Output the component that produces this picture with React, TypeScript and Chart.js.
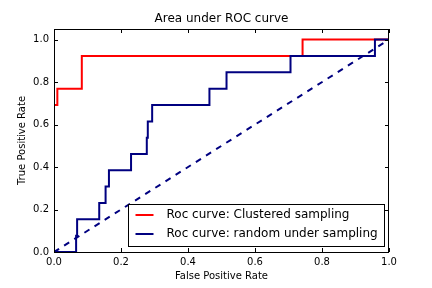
import React, { useEffect, useRef } from "react";
import { Chart, registerables } from "chart.js";

Chart.register(...registerables);

const chartTitle = "Area under ROC curve";
const xAxisLabel = "False Positive Rate";
const yAxisLabel = "True Positive Rate";
const tickValues = [0, 0.2, 0.4, 0.6, 0.8, 1.0];

const clusteredLabel = "Roc curve: Clustered sampling";
const clusteredFpr = [0, 0.01, 0.01, 0.083, 0.083, 0.742, 0.742, 1.0];
const clusteredTpr = [0.692, 0.692, 0.769, 0.769, 0.923, 0.923, 1.0, 1.0];

const randomLabel = "Roc curve: random under sampling";
const randomFpr = [0, 0.066, 0.066, 0.069, 0.069, 0.135, 0.135, 0.154, 0.154, 0.164, 0.164, 0.23, 0.23, 0.277, 0.277, 0.28, 0.28, 0.293, 0.293, 0.464, 0.464, 0.515, 0.515, 0.706, 0.706, 0.958, 0.958, 1.0];
const randomTpr = [0, 0, 0.077, 0.077, 0.154, 0.154, 0.231, 0.231, 0.308, 0.308, 0.385, 0.385, 0.462, 0.462, 0.538, 0.538, 0.615, 0.615, 0.692, 0.692, 0.769, 0.769, 0.846, 0.846, 0.923, 0.923, 1.0, 1.0];

const diagonalX = [0, 1];
const diagonalY = [0, 1];

const FONT = "'DejaVu Sans', sans-serif";

const framePlugin = {
  id: "frame",
  afterDatasetsDraw(chart: any) {
    const { ctx, chartArea } = chart;
    const { left, right, top, bottom } = chartArea;
    const xs = chart.scales.x;
    const ys = chart.scales.y;
    ctx.save();
    ctx.strokeStyle = "#000";
    ctx.lineWidth = 1;
    ctx.beginPath();
    tickValues.forEach((v) => {
      const px = Math.round(xs.getPixelForValue(v)) + 0.5;
      ctx.moveTo(px, bottom);
      ctx.lineTo(px, bottom - 4);
      ctx.moveTo(px, top);
      ctx.lineTo(px, top + 4);
      const py = Math.round(ys.getPixelForValue(v)) + 0.5;
      ctx.moveTo(left, py);
      ctx.lineTo(left + 4, py);
      ctx.moveTo(right, py);
      ctx.lineTo(right - 4, py);
    });
    ctx.stroke();
    ctx.strokeRect(left + 0.5, top + 0.5, right - left - 1, bottom - top);
    // title
    ctx.fillStyle = "#000";
    ctx.font = `12px ${FONT}`;
    ctx.textAlign = "center";
    ctx.textBaseline = "middle";
    ctx.fillText(chartTitle, (left + right) / 2, top - 10);
    // legend
    ctx.font = `12px ${FONT}`;
    const items = chart.data.datasets.filter((d: any) => d.label);
    const textW = Math.max(...items.map((d: any) => ctx.measureText(d.label).width));
    const w = Math.round(7.5 + 18 + 13 + textW + 6.5);
    const h = 42;
    const bx = Math.round(right - 5 - w);
    const by = Math.round(bottom - 6 - h);
    ctx.fillStyle = "#fff";
    ctx.fillRect(bx + 0.5, by + 0.5, w, h);
    ctx.strokeStyle = "#000";
    ctx.lineWidth = 1;
    ctx.strokeRect(bx + 0.5, by + 0.5, w, h);
    items.forEach((d: any, i: number) => {
      const ry = by + 11 + i * 19;
      ctx.strokeStyle = d.borderColor;
      ctx.lineWidth = 2;
      ctx.setLineDash([]);
      ctx.beginPath();
      ctx.moveTo(bx + 7.5, ry);
      ctx.lineTo(bx + 25.5, ry);
      ctx.stroke();
      ctx.fillStyle = "#000";
      ctx.textAlign = "left";
      ctx.textBaseline = "middle";
      ctx.fillText(d.label, bx + 38.5, ry);
    });
    ctx.restore();
  },
};

export default function App() {
  const ref = useRef<HTMLCanvasElement>(null);
  useEffect(() => {
    if (!ref.current) return;
    const toPts = (xs: number[], ys: number[]) => xs.map((x, i) => ({ x, y: ys[i] }));
    const chart = new Chart(ref.current, {
      type: "line",
      data: {
        datasets: [
          {
            label: clusteredLabel,
            data: toPts(clusteredFpr, clusteredTpr),
            borderColor: "#ff0000",
            borderWidth: 2,
            pointRadius: 0,
            fill: false,
            tension: 0,
            order: 3,
          },
          {
            label: randomLabel,
            data: toPts(randomFpr, randomTpr),
            borderColor: "#000080",
            borderWidth: 2,
            pointRadius: 0,
            fill: false,
            tension: 0,
            order: 2,
          },
          {
            label: "",
            data: toPts(diagonalX, diagonalY),
            borderColor: "#000080",
            borderWidth: 2,
            borderDash: [6, 6],
            pointRadius: 0,
            fill: false,
            tension: 0,
            order: 1,
          },
        ],
      },
      options: {
        animation: false,
        responsive: false,
        events: [],
        layout: { padding: { top: 29, right: 43, bottom: 0, left: 0 } },
        plugins: { legend: { display: false }, tooltip: { enabled: false }, title: { display: false } },
        scales: {
          x: {
            type: "linear",
            min: 0,
            max: 1,
            grid: { display: false, drawTicks: false },
            border: { display: false },
            afterFit: (s: any) => { s.height = 36; },
            afterBuildTicks: (s: any) => { s.ticks = tickValues.map((v) => ({ value: v })); },
            ticks: {
              padding: 4,
              color: "#000",
              font: { family: FONT, size: 10 },
              maxRotation: 0,
              callback: (v: any) => Number(v).toFixed(1),
            },
            title: { display: true, text: xAxisLabel, color: "#000", font: { family: FONT, size: 10 }, padding: { top: 0, bottom: 6 } },
          },
          y: {
            type: "linear",
            min: 0,
            max: 1.05,
            grid: { display: false, drawTicks: false },
            border: { display: false },
            afterFit: (s: any) => { s.width = 54; },
            afterBuildTicks: (s: any) => { s.ticks = tickValues.map((v) => ({ value: v })); },
            ticks: {
              padding: 5,
              color: "#000",
              font: { family: FONT, size: 10 },
              callback: (v: any) => Number(v).toFixed(1),
            },
            title: { display: true, text: yAxisLabel, color: "#000", font: { family: FONT, size: 10 }, padding: { top: 16, bottom: 0 } },
          },
        },
      },
      plugins: [framePlugin],
    } as any);
    return () => chart.destroy();
  }, []);
  return (
    <div style={{ position: "fixed", left: 0, top: 0, width: 432, height: 288, background: "#fff" }}>
      <canvas ref={ref} width={432} height={288} style={{ display: "block" }} />
    </div>
  );
}
